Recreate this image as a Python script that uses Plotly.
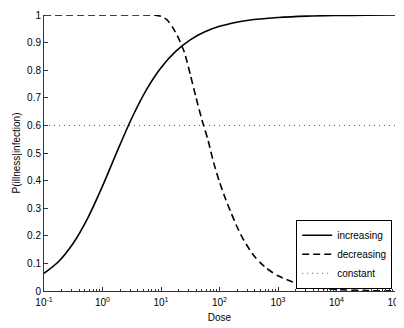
import plotly.graph_objects as go

# ---- data ----
dose_inc = [0.1, 0.178, 0.316, 0.562, 1, 1.78, 3.16, 5.62, 10, 17.8, 31.6, 56.2,
            100, 316, 1000, 3160, 10000, 31600, 100000]
p_inc = [0.064, 0.107, 0.173, 0.265, 0.380, 0.506, 0.626, 0.729, 0.809, 0.868,
         0.910, 0.939, 0.959, 0.981, 0.991, 0.996, 0.998, 0.999, 1.0]

dose_dec = [0.1, 1, 5, 7.94, 10, 12.6, 15.8, 20, 25.1, 31.6, 39.8, 50.1, 63.1, 79.4,
            100, 126, 158, 200, 251, 316, 398, 501, 631, 794, 1000, 1780, 3160,
            5620, 10000, 31600, 100000]
p_dec = [1.0, 1.0, 1.0, 0.999, 0.995, 0.983, 0.955, 0.915, 0.865, 0.785, 0.70,
         0.62, 0.55, 0.465, 0.395, 0.335, 0.283, 0.232, 0.19, 0.155, 0.125, 0.102,
         0.083, 0.068, 0.055, 0.033, 0.018, 0.010, 0.005, 0.0015, 0.0005]

dose_const = [0.1, 100000]
p_const = [0.6, 0.6]

series_names = ["increasing", "decreasing", "constant"]

x_tickvals = [0.1, 1, 10, 100, 1000, 10000, 100000]
x_ticktext = ["10<sup>-1</sup>", "10<sup>0</sup>", "10<sup>1</sup>", "10<sup>2</sup>",
              "10<sup>3</sup>", "10<sup>4</sup>", "10<sup>5</sup>"]
y_tickvals = [0, 0.1, 0.2, 0.3, 0.4, 0.5, 0.6, 0.7, 0.8, 0.9, 1]
y_ticktext = ["0", "0.1", "0.2", "0.3", "0.4", "0.5", "0.6", "0.7", "0.8", "0.9", "1"]

minor_vals = [m * 10 ** e for e in range(-1, 5) for m in range(2, 10)]

FONT = "Liberation Sans, Arial, Helvetica, sans-serif"

fig = go.Figure()
fig.add_trace(go.Scatter(x=dose_inc, y=p_inc, mode="lines", name=series_names[0],
                         line=dict(color="black", width=1.6, shape="spline", smoothing=0.8)))
fig.add_trace(go.Scatter(x=dose_dec, y=p_dec, mode="lines", name=series_names[1],
                         line=dict(color="black", width=1.6, dash="7px,4px",
                                   shape="spline", smoothing=0.6)))
fig.add_trace(go.Scatter(x=dose_const, y=p_const, mode="lines", name=series_names[2],
                         line=dict(color="#555555", width=1, dash="1px,4px")))

# page body has an 8px margin, so the figure is 8px smaller than the window
fig.update_layout(
    width=396, height=320,
    margin=dict(l=36, r=9, t=7, b=37, autoexpand=False),
    paper_bgcolor="white", plot_bgcolor="white",
    font=dict(family=FONT, size=10, color="black"),
    showlegend=True,
    legend=dict(x=0.992, y=0.008, xanchor="right", yanchor="bottom",
                bgcolor="white", bordercolor="black", borderwidth=1,
                font=dict(size=10), tracegroupgap=0, itemwidth=30),
    xaxis=dict(type="log", range=[-1, 5], showgrid=False, zeroline=False,
               automargin=False,
               showline=True, linecolor="#333333", linewidth=1,
               ticks="inside", ticklen=4, tickcolor="#333333",
               ticklabelstandoff=2,
               tickvals=x_tickvals, ticktext=x_ticktext,
               minor=dict(ticks="inside", ticklen=2, tickcolor="#333333",
                          tickvals=minor_vals, showgrid=False),
               title=dict(text="Dose", standoff=6, font=dict(size=10)),
               mirror=False),
    yaxis=dict(range=[0, 1], showgrid=False, zeroline=False,
               automargin=False,
               showline=True, linecolor="#333333", linewidth=1,
               ticks="inside", ticklen=4, tickcolor="#333333",
               tickvals=y_tickvals, ticktext=y_ticktext,
               title=dict(text="P(illness|infection)", standoff=4, font=dict(size=10)),
               mirror=False),
)

fig.write_html("out.html")
